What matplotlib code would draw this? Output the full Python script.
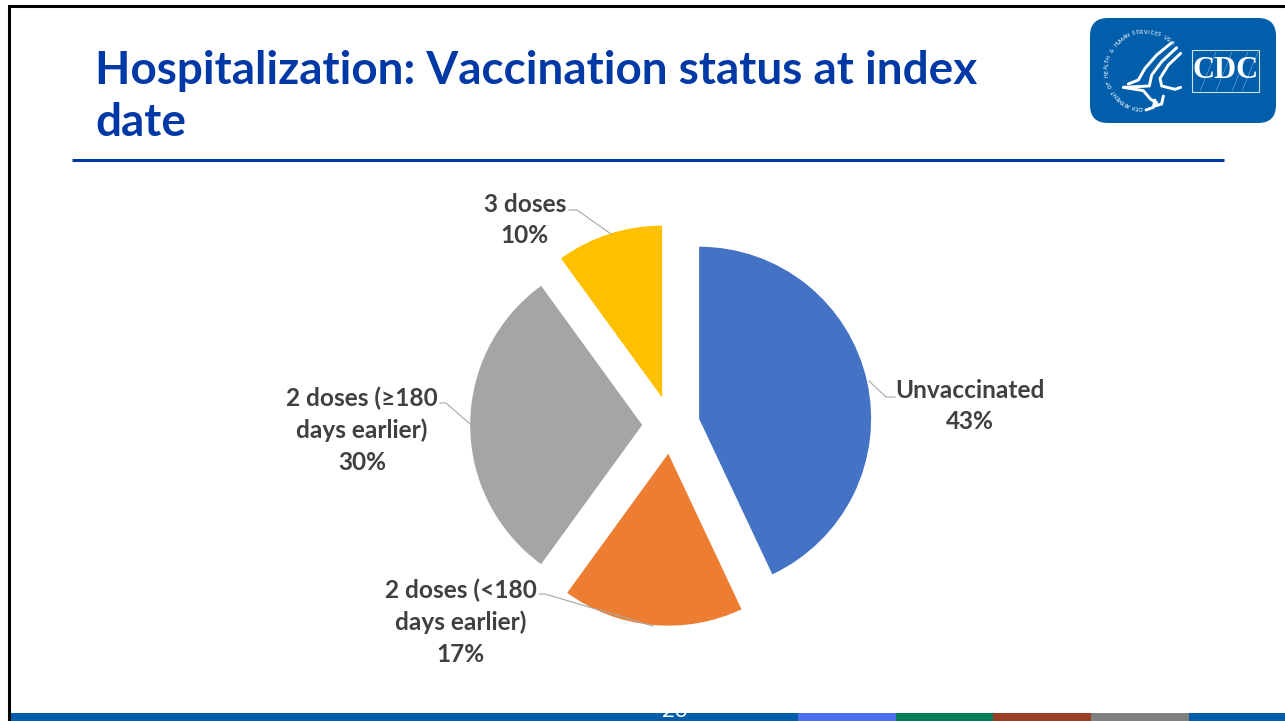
import numpy as np
import matplotlib
matplotlib.use("Agg")
import matplotlib.pyplot as plt
from matplotlib.patches import FancyBboxPatch, Rectangle

W, H = 1285, 721

categories = ["Unvaccinated", "2 doses (<180\ndays earlier)", "2 doses (\u2265180\ndays earlier)", "3 doses"]
percent = [43, 17, 30, 10]
slice_colors = ["#4472C4", "#ED7D31", "#A5A5A5", "#FFC000"]
label_centers = [(970, 406), (461, 622), (362, 430), (525, 220)]

BLUE = "#0039A6"
CDC_BLUE = "#005EAA"
TEXT = "#404040"
LEADER = "#A6A6A6"
SEAL_TEXT = "DEPARTMENT OF HEALTH & HUMAN SERVICES USA"

plt.rcParams['font.family'] = ['Lato', 'DejaVu Sans']


def py(y):
    # pixel row from the top -> axes y
    return H - y


def line(xs, ys, **kw):
    ax.plot(xs, [py(y) for y in ys], **kw)


fig = plt.figure(figsize=(W / 100, H / 100), dpi=100)
ax = fig.add_axes([0, 0, 1, 1])

# explode is in data units here since the radius is in pixels
ax.pie(percent, explode=[28.8] * 4, colors=slice_colors, startangle=90, counterclock=False,
       center=(671, py(425)), radius=172, frame=True)
ax.set_xlim(0, W)
ax.set_ylim(0, H)
ax.set_aspect('auto')
ax.axis('off')

# slide frame and title
line([9, 9, W], [H, 6, 6], color='black', lw=2.2, solid_capstyle='butt', solid_joinstyle='miter')
ax.text(95, py(84), "Hospitalization: Vaccination status at index", fontsize=33, fontweight='bold', color=BLUE)
ax.text(95, py(136), "date", fontsize=33, fontweight='bold', color=BLUE)
line([72, 1224], [160, 160], color=BLUE, lw=2.2, solid_capstyle='butt')

# labels
for cat, pct, (x, y) in zip(categories, percent, label_centers):
    ax.text(x, py(y), f"{cat}\n{pct}%", ha='center', va='center', fontsize=17.6, fontweight='bold',
            color=TEXT, linespacing=1.44)

# leader lines
line([895, 886, 869], [397, 397, 381], color=LEADER, lw=0.8)
line([539, 545, 653], [594, 594, 626], color=LEADER, lw=0.8)
line([440, 446, 470], [403, 403, 424], color=LEADER, lw=0.8)
line([569, 577, 611], [210, 210, 234], color=LEADER, lw=0.8)

# footer bar
ax.add_patch(Rectangle((8, 0), W - 8, 8, color=CDC_BLUE, lw=0))
footer_x = [798, 896, 993, 1091]
footer_colors = ["#4C6FEF", "#007C5A", "#9C3D25", "#808080"]
for x, c in zip(footer_x, footer_colors):
    ax.add_patch(Rectangle((x, 0), 98, 8, color=c, lw=0))
# page number is white, only the part over the bar shows
ax.text(675, py(717), "23", ha='center', va='baseline', fontsize=16, color='white')

# logo
ax.add_patch(FancyBboxPatch((1090 + 18, py(123) + 18), 186 - 36, 105 - 36,
                            boxstyle="round,pad=18", fc=CDC_BLUE, lw=0))
ax.add_patch(Rectangle((1192, py(92)), 67, 42, fc='none', ec='#cfe0f0', lw=0.8))
for x0, x1 in [(1200, 1216), (1216, 1232), (1232, 1248), (1242, 1258)]:
    line([x0, x1], [91, 52], color='#7fb0d8', lw=0.4)
ax.text(1225.5, py(70.5), "CDC", ha='center', va='center', fontsize=22, fontweight='bold', color='white',
        family='Liberation Serif')

# seal text round the eagle
n = len(SEAL_TEXT)
for i, ch in enumerate(SEAL_TEXT):
    a = np.deg2rad(263 - 216 * i / (n - 1))
    ax.text(1145 + 38 * np.cos(a), py(70) + 38 * np.sin(a), ch, ha='center', va='center', fontsize=3.8,
            fontweight='bold', color='#d5e4f2', rotation=np.rad2deg(a) - 90, rotation_mode='anchor')

# eagle strokes, traced in zoom pixels (3x, origin 1060,0)
eagle = [
    [(335, 128), (290, 165), (255, 205), (235, 240), (205, 252)],
    [(350, 143), (305, 185), (275, 225), (268, 258), (190, 262)],
    [(362, 160), (325, 195), (300, 235), (305, 258), (345, 268), (362, 262)],
    [(190, 262), (250, 272), (272, 298), (290, 308)],
    [(258, 330), (280, 322), (285, 300)],
    [(285, 318), (305, 312), (310, 288)],
]
for stroke in eagle:
    pts = np.array(stroke) / 3
    line(1060 + pts[:, 0], pts[:, 1], color='white', lw=2.1, solid_capstyle='round')

fig.savefig("out.png", dpi=100)
